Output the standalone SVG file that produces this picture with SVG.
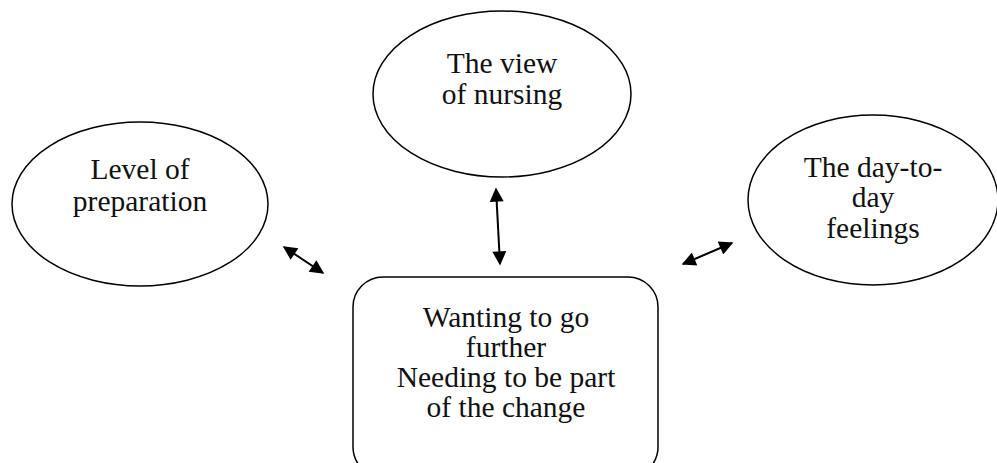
<svg xmlns="http://www.w3.org/2000/svg" width="997" height="463" viewBox="0 0 997 463">
<style>
.n{fill:#fff;stroke:#000;stroke-width:1.5}
.t{font-family:"Liberation Serif",serif;font-size:29.5px;fill:#111;text-anchor:middle}
.c{stroke:#000;stroke-width:2;fill:none;marker-start:url(#a);marker-end:url(#a)}
</style>
<defs>
<marker id="a" viewBox="0 0 10 10" refX="9" refY="5" markerWidth="8" markerHeight="7" orient="auto-start-reverse" markerUnits="strokeWidth">
<path d="M0,0 L10,5 L0,10 z" fill="#000"/>
</marker>
</defs>
<g id="level">
<ellipse class="n" cx="140" cy="204" rx="128" ry="82"/>
<text class="t" x="140" y="179">Level of</text>
<text class="t" x="140" y="211">preparation</text>
</g>
<g id="view">
<ellipse class="n" cx="502" cy="94" rx="129" ry="83"/>
<text class="t" x="502" y="73">The view</text>
<text class="t" x="502" y="104">of nursing</text>
</g>
<g id="daytoday">
<ellipse class="n" cx="873" cy="200" rx="125" ry="85"/>
<text class="t" x="873" y="177">The day-to-</text>
<text class="t" x="873" y="207">day</text>
<text class="t" x="873" y="238">feelings</text>
</g>
<g id="wanting">
<rect class="n" x="353" y="277" width="305" height="200" rx="30" ry="30"/>
<text class="t" x="506" y="327">Wanting to go</text>
<text class="t" x="506" y="357">further</text>
<text class="t" x="506" y="387">Needing to be part</text>
<text class="t" x="506" y="417">of the change</text>
</g>
<g id="connectors">
<line class="c" x1="284" y1="247" x2="323" y2="273"/>
<line class="c" x1="496" y1="189" x2="500" y2="264"/>
<line class="c" x1="683" y1="264" x2="732" y2="243"/>
</g>
</svg>
